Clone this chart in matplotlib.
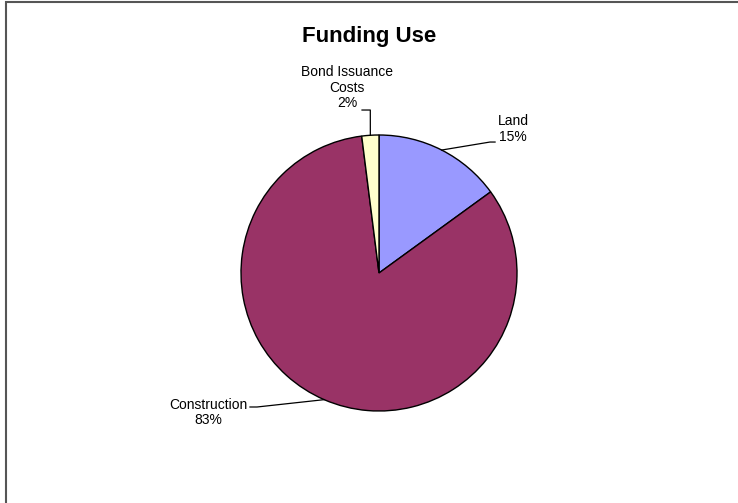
import numpy as np
import matplotlib
matplotlib.use("Agg")
import matplotlib.pyplot as plt
from matplotlib.patches import Rectangle

plt.rcParams['font.family'] = ['Liberation Sans', 'DejaVu Sans']

# Funding use breakdown (percent)
labels = ["Land", "Construction", "Bond Issuance\nCosts"]
values = [15, 83, 2]
colors = ["#9999FF", "#993366", "#FFFFCC"]

fig = plt.figure(figsize=(7.38, 5.03), dpi=100)

# thin frame around the chart area (right/bottom edges fall off the image)
fig.patches.append(Rectangle((6 / 738, -0.05), 1.2, 1 - 1.5 / 503 + 0.05,
                             transform=fig.transFigure, fill=False,
                             edgecolor="#555555", linewidth=1.5))

# pie centre at (379, 273) px, radius 138 px
ax = fig.add_axes([241 / 738, 92 / 503, 276 / 738, 276 / 503])
wedges, _ = ax.pie(values, colors=colors, startangle=90, counterclock=False,
                   radius=1, wedgeprops=dict(edgecolor="black", linewidth=1))
ax.set_xlim(-1, 1)
ax.set_ylim(-1, 1)
ax.set_aspect("equal")
ax.axis("off")

# label layout: elbow points of leader lines and text centres (data units)
elbows = [[(0.804, 0.949), (0.841, 0.949)],
          [(-0.884, -0.971), (-0.935, -0.971)],
          [(-0.063, 1.181), (-0.123, 1.181)]]
text_pos = [(0.971, 1.043), (-1.239, -1.011), (-0.232, 1.344)]

total = sum(values)
for w, lab, v, elb, tp in zip(wedges, labels, values, elbows, text_pos):
    mid = np.deg2rad((w.theta1 + w.theta2) / 2)
    x0, y0 = np.cos(mid), np.sin(mid)
    xs = [x0] + [p[0] for p in elb]
    ys = [y0] + [p[1] for p in elb]
    ax.plot(xs, ys, color="black", linewidth=0.9, clip_on=False)
    ax.text(tp[0], tp[1], f"{lab}\n{v / total * 100:.0f}%", ha="center",
            va="center", fontsize=10, linespacing=1.15)

fig.text(369.5 / 738, 1 - 42 / 503, "Funding Use", ha="center",
         va="baseline", fontsize=16, fontweight="bold")

fig.savefig("out.png", dpi=100)
